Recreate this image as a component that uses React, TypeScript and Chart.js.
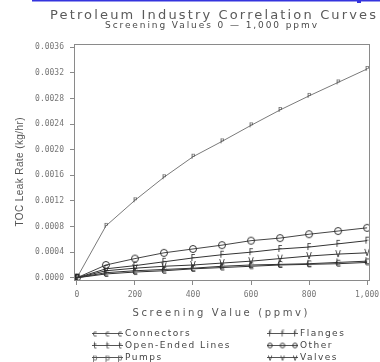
import { useEffect, useRef } from 'react';
import { Chart, registerables } from 'chart.js';

Chart.register(...registerables);

const screening = [0, 100, 200, 300, 400, 500, 600, 700, 800, 900, 1000];
const connectors = [0, 0.00006, 0.00009, 0.00011, 0.00014, 0.00016, 0.00018, 0.0002, 0.00021, 0.00022, 0.00024];
const flanges = [0, 0.00014, 0.00019, 0.00025, 0.00031, 0.00036, 0.0004, 0.00045, 0.00048, 0.00053, 0.00058];
const openEnded = [0, 0.00008, 0.00011, 0.00013, 0.00015, 0.00018, 0.0002, 0.00021, 0.00022, 0.00024, 0.00026];
const other = [0, 0.0002, 0.0003, 0.00039, 0.00045, 0.00051, 0.00058, 0.00062, 0.00068, 0.00073, 0.00078];
const pumps = [0, 0.00081, 0.00121, 0.00157, 0.00189, 0.00213, 0.00238, 0.00262, 0.00284, 0.00305, 0.00326];
const valves = [0, 0.00011, 0.00015, 0.00018, 0.0002, 0.00023, 0.00026, 0.0003, 0.00034, 0.00037, 0.00039];

const xTicks = [0, 200, 400, 600, 800, 1000];
const yTicks = [0, 0.0004, 0.0008, 0.0012, 0.0016, 0.002, 0.0024, 0.0028, 0.0032, 0.0036];

const titleText = 'Petroleum Industry Correlation Curves';
const subtitleText = 'Screening Values 0 \u2014 1,000 ppmv';
const xTitle = 'Screening Value (ppmv)';
const yTitle = 'TOC Leak Rate (kg/hr)';

const legendItems = [
  { label: 'Connectors', mark: 'C' },
  { label: 'Flanges', mark: 'F' },
  { label: 'Open-Ended Lines', mark: 'L' },
  { label: 'Other', mark: 'O' },
  { label: 'Pumps', mark: 'P' },
  { label: 'Valves', mark: 'V' },
];

function letterMarker(ch: string, color: string, px: number) {
  const c = document.createElement('canvas');
  c.width = 10;
  c.height = 10;
  const ctx = c.getContext('2d')!;
  ctx.fillStyle = color;
  ctx.font = `${px}px "DejaVu Sans"`;
  ctx.textAlign = 'center';
  ctx.textBaseline = 'middle';
  ctx.fillText(ch, 5, 5.5);
  return c;
}

function circleMarker(color: string, r: number) {
  const c = document.createElement('canvas');
  c.width = 10;
  c.height = 10;
  const ctx = c.getContext('2d')!;
  ctx.strokeStyle = color;
  ctx.lineWidth = 1;
  ctx.beginPath();
  ctx.arc(5, 5, r, 0, Math.PI * 2);
  ctx.stroke();
  return c;
}

function fitText(ctx: any, text: string, cx: number, cy: number, width: number, font: string, color: string) {
  ctx.save();
  ctx.font = font;
  ctx.letterSpacing = '0px';
  const w = ctx.measureText(text).width;
  const sp = (width - w) / Math.max(1, text.length - 1);
  ctx.letterSpacing = sp + 'px';
  ctx.fillStyle = color;
  ctx.textAlign = 'left';
  ctx.textBaseline = 'middle';
  ctx.fillText(text, cx - width / 2, cy);
  ctx.restore();
}

export default function App() {
  const ref = useRef<HTMLCanvasElement>(null);

  useEffect(() => {
    document.body.style.margin = '0';
    const markers: Record<string, HTMLCanvasElement> = {
      C: letterMarker('C', '#222', 8),
      F: letterMarker('F', '#222', 8),
      L: letterMarker('L', '#222', 8),
      O: circleMarker('#333', 3.5),
      P: letterMarker('P', '#444', 7),
      V: letterMarker('V', '#222', 8),
    };
    const small: Record<string, HTMLCanvasElement> = {
      C: letterMarker('c', '#333', 8),
      F: letterMarker('f', '#333', 8),
      L: letterMarker('t', '#333', 8),
      O: circleMarker('#333', 2.3),
      P: letterMarker('p', '#555', 8),
      V: letterMarker('v', '#333', 8),
    };

    const decor = {
      id: 'decor',
      afterDraw(chart: any) {
        const ctx = chart.ctx;
        const a = chart.chartArea;
        ctx.save();
        ctx.fillStyle = '#3434de';
        ctx.fillRect(32, 0, 348, 1.5);
        ctx.fillRect(357, 0, 4, 3);
        ctx.strokeStyle = '#8a8a8a';
        ctx.lineWidth = 1;
        ctx.strokeRect(Math.round(a.left) + 0.5, Math.round(a.top) + 0.5, Math.round(a.right - a.left) - 1, Math.round(a.bottom - a.top) - 1);
        ctx.restore();

        fitText(ctx, titleText, 213, 15.5, 326, '13px "DejaVu Sans"', '#5a5a5a');
        fitText(ctx, subtitleText, 211, 26, 212, '9px "DejaVu Sans"', '#4a4a4a');
        fitText(ctx, xTitle, 220, 313, 175, '10px "DejaVu Sans"', '#555');

        ctx.save();
        ctx.translate(20, 172);
        ctx.rotate(-Math.PI / 2);
        fitText(ctx, yTitle, 0, 0, 109, '10px "Liberation Sans"', '#555');
        ctx.restore();

        const cols = [92, 267];
        const rows = [333, 345, 357];
        legendItems.forEach((it, i) => {
          const x = cols[i % 2];
          const y = rows[Math.floor(i / 2)];
          ctx.save();
          ctx.strokeStyle = '#555';
          ctx.lineWidth = 1;
          ctx.beginPath();
          ctx.moveTo(x, y + 0.5);
          ctx.lineTo(x + 31, y + 0.5);
          ctx.stroke();
          const m = small[it.mark];
          [x + 3, x + 15.5, x + 28].forEach((mx) => ctx.drawImage(m, mx - 5, y - 4.5));
          ctx.font = '9px "DejaVu Sans"';
          ctx.letterSpacing = '1.5px';
          ctx.fillStyle = '#444';
          ctx.textAlign = 'left';
          ctx.textBaseline = 'middle';
          ctx.fillText(it.label, x + 33, y + 0.5);
          ctx.restore();
        });
      },
    };

    const mk = (label: string, data: number[], mark: string, color: string) => ({
      label,
      data: screening.map((x, i) => ({ x, y: data[i] })),
      borderColor: color,
      borderWidth: 1,
      pointStyle: markers[mark],
      pointRadius: 4,
      pointHoverRadius: 4,
      fill: false,
      tension: 0,
    });

    const chart = new Chart(ref.current!, {
      type: 'line',
      data: {
        datasets: [
          mk('Connectors', connectors, 'C', '#333'),
          mk('Open-Ended Lines', openEnded, 'L', '#333'),
          mk('Valves', valves, 'V', '#333'),
          mk('Flanges', flanges, 'F', '#333'),
          mk('Other', other, 'O', '#444'),
          mk('Pumps', pumps, 'P', '#7a7a7a'),
        ],
      },
      options: {
        animation: false,
        responsive: false,
        events: [],
        layout: { padding: { top: 44, right: 10, bottom: 0, left: 0 } },
        plugins: { legend: { display: false }, title: { display: false }, tooltip: { enabled: false } },
        scales: {
          x: {
            type: 'linear',
            min: -10,
            max: 1010,
            afterBuildTicks: (axis: any) => { axis.ticks = xTicks.map((v) => ({ value: v })); },
            afterFit: (s: any) => { s.height = 81; s.paddingLeft = 0; s.paddingRight = 0; },
            border: { display: false },
            grid: { drawOnChartArea: false, drawTicks: true, tickLength: 4, color: '#8a8a8a' },
            ticks: {
              autoSkip: false,
              maxRotation: 0,
              padding: 5,
              color: '#777',
              font: { family: '"DejaVu Sans Mono"', size: 8 },
              callback: (v: any) => Number(v).toLocaleString('en-US'),
            },
          },
          y: {
            type: 'linear',
            min: -0.00005,
            max: 0.00365,
            afterBuildTicks: (axis: any) => { axis.ticks = yTicks.map((v) => ({ value: v })); },
            afterFit: (s: any) => { s.width = 74; s.paddingTop = 0; s.paddingBottom = 0; },
            border: { display: false },
            grid: { drawOnChartArea: false, drawTicks: true, tickLength: 4, color: '#8a8a8a' },
            ticks: {
              autoSkip: false,
              padding: 6,
              color: '#777',
              font: { family: '"DejaVu Sans Mono"', size: 8 },
              callback: (v: any) => Number(v).toFixed(4),
            },
          },
        },
      },
      plugins: [decor],
    } as any);
    return () => chart.destroy();
  }, []);

  return (
    <div style={{ position: 'fixed', left: 0, top: 0, width: 380, height: 362, background: '#fff' }}>
      <canvas ref={ref} width={380} height={362} />
    </div>
  );
}
